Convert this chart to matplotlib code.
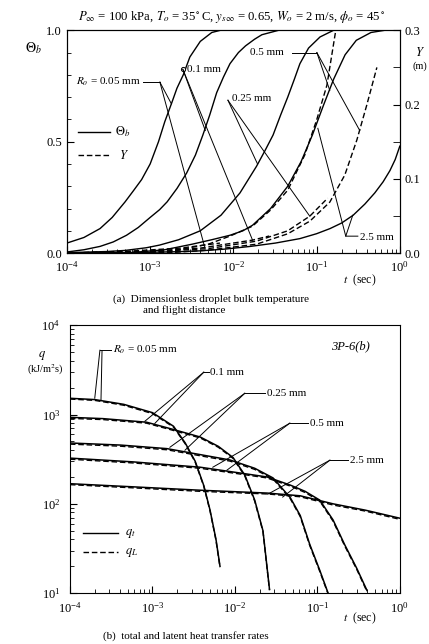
import matplotlib.pyplot as plt
from matplotlib.ticker import MultipleLocator, LogLocator, NullFormatter

plt.rcParams['font.family'] = ['Liberation Serif', 'DejaVu Serif']
plt.rcParams['mathtext.fontset'] = 'stix'
plt.rcParams['font.size'] = 9

# ---- (a) dimensionless bulk temperature theta_b and flight distance Y vs t (sec)
t_th005 = [1e-4, 1.6e-4, 2.5e-4, 3.5e-4, 5e-4, 6.3e-4, 7.9e-4, 1.0e-3, 1.26e-3, 1.5e-3,
           1.8e-3, 2.1e-3, 2.5e-3, 3.0e-3, 4.0e-3, 5.5e-3, 7.0e-3]
th005 = [0.045, 0.07, 0.11, 0.16, 0.23, 0.28, 0.33, 0.40, 0.50, 0.59,
         0.67, 0.74, 0.80, 0.88, 0.95, 0.99, 1.0]
t_th01 = [1e-4, 1.6e-4, 2.5e-4, 3.6e-4, 5.2e-4, 7.2e-4, 1e-3, 1.3e-3, 1.6e-3, 2.1e-3, 2.75e-3,
          3.5e-3, 4.3e-3, 5.2e-3, 6.3e-3, 7.6e-3, 9.1e-3, 1.15e-2, 1.4e-2, 1.8e-2, 2.2e-2, 3.5e-2]
th01 = [0.005, 0.015, 0.03, 0.05, 0.08, 0.115, 0.16, 0.195, 0.23, 0.29, 0.36,
        0.44, 0.53, 0.62, 0.72, 0.79, 0.85, 0.90, 0.93, 0.96, 0.98, 1.0]
t_th025 = [1e-4, 3e-4, 5e-4, 9e-4, 1.3e-3, 2.2e-3, 4.0e-3, 7.1e-3, 1.2e-2, 1.9e-2, 2.4e-2,
           3.0e-2, 3.7e-2, 4.5e-2, 5.4e-2, 6.3e-2, 8e-2, 0.11, 0.16]
th025 = [0.002, 0.007, 0.012, 0.024, 0.036, 0.06, 0.10, 0.17, 0.27, 0.39, 0.46,
         0.53, 0.62, 0.70, 0.78, 0.85, 0.92, 0.97, 1.0]
t_th05 = [1e-4, 6.2e-4, 1.5e-3, 3.2e-3, 5.5e-3, 9.1e-3, 1.3e-2, 1.7e-2, 2.8e-2, 4.5e-2,
          6.5e-2, 8.9e-2, 0.12, 0.16, 0.22, 0.30, 0.45, 0.66]
th05 = [0.0, 0.003, 0.015, 0.04, 0.06, 0.08, 0.10, 0.125, 0.20, 0.30,
        0.41, 0.53, 0.66, 0.78, 0.89, 0.955, 0.99, 1.0]
t_th25 = [1e-4, 6.2e-4, 2e-3, 4e-3, 8e-3, 1.6e-2, 3.2e-2, 6.3e-2, 0.1, 0.145,
          0.2, 0.275, 0.38, 0.5, 0.63, 0.76, 0.88, 1.0]
th25 = [0.0, 0.002, 0.006, 0.01, 0.018, 0.03, 0.045, 0.065, 0.087, 0.11,
        0.135, 0.17, 0.22, 0.27, 0.32, 0.37, 0.42, 0.48]

# flight distance Y (m)
t_Y005 = [1e-4, 5.7e-4, 2.3e-3, 4.5e-3, 6.9e-3]
Y005 = [0.0, 0.0027, 0.0067, 0.0108, 0.0135]
t_Y01 = [1e-4, 1e-3, 4e-3, 1.7e-2, 2.7e-2]
Y01 = [0.0, 0.0027, 0.0067, 0.0175, 0.023]
t_Y025 = [1e-4, 6.2e-4, 5e-3, 1.9e-2, 4.5e-2, 8.3e-2, 0.136]
Y025 = [0.0, 0.0005, 0.006, 0.0161, 0.030, 0.0498, 0.074]
t_Y05 = [1e-4, 1.7e-3, 5e-3, 1.9e-2, 4.5e-2, 8.3e-2, 0.144, 0.218, 0.304, 0.40, 0.53]
Y05 = [0.0, 0.0005, 0.004, 0.012, 0.026, 0.043, 0.0686, 0.105, 0.152, 0.199, 0.25]
t_Y25 = [1e-4, 1.7e-3, 5e-3, 9.1e-3, 1.7e-2, 2.8e-2, 4.5e-2, 7.2e-2, 0.10, 0.133, 0.17]
Y25 = [0.0, 0.002, 0.012, 0.0229, 0.0363, 0.058, 0.0847, 0.132, 0.179, 0.226, 0.30]

# ---- (b) total (q_t) and latent (q_L) heat transfer rates, kJ/m2s
t_q005 = [1e-4, 2.0e-4, 4.5e-4, 1.0e-3, 1.8e-3, 2.5e-3, 3.3e-3, 4.2e-3, 5.0e-3, 5.9e-3, 6.6e-3]
qt005 = [1520, 1470, 1300, 1050, 740, 480, 300, 160, 85, 40, 20]
qL005 = [1490, 1440, 1270, 1025, 725, 470, 294, 157, 83, 39, 19.5]
t_q01 = [1e-4, 2.5e-4, 8.5e-4, 1.6e-3, 3.8e-3, 6.3e-3, 9.5e-3, 1.32e-2, 1.74e-2, 2.19e-2, 2.63e-2]
qt01 = [930, 900, 820, 700, 560, 440, 330, 210, 110, 50, 11]
qL01 = [905, 878, 800, 683, 547, 430, 323, 205, 107, 49, 10.8]
t_q025 = [1e-4, 4.1e-4, 1.5e-3, 8.7e-3, 1.74e-2, 2.9e-2, 4.7e-2, 6.2e-2, 8.1e-2, 0.107, 0.135]
qt025 = [480, 455, 415, 310, 250, 195, 117, 74, 35, 18, 10]
qL025 = [466, 442, 403, 301, 243, 190, 114, 72, 34, 17.5, 9.8]
t_q05 = [1e-4, 5.8e-4, 3.8e-3, 2.45e-2, 4.7e-2, 7.1e-2, 0.107, 0.155, 0.214, 0.30, 0.40]
qt05 = [325, 295, 257, 200, 162, 138, 110, 66, 35, 19, 10.7]
qL05 = [316, 287, 250, 195, 158, 134, 107, 64, 34, 18.5, 10.4]
t_q25 = [1e-4, 5.8e-4, 3.8e-3, 2.45e-2, 6.2e-2, 0.155, 0.38, 1.0]
qt25 = [168, 155, 142, 132, 123, 100, 85, 69]
qL25 = [164, 151, 138, 129, 120, 97, 83, 67]

fig = plt.figure(figsize=(4.29, 6.44), dpi=100)

# ================= panel (a)
ax1 = fig.add_axes([0.156, 0.607, 0.776, 0.346])
ax1.set_xscale('log')
ax1.set_xlim(1e-4, 1)
ax1.set_ylim(0, 1)
for t, th in [(t_th005, th005), (t_th01, th01), (t_th025, th025), (t_th05, th05), (t_th25, th25)]:
    ax1.plot(t, th, color='k', lw=1.0)

ax1r = ax1.twinx()
ax1r.set_ylim(0, 0.3)
for t, y in [(t_Y005, Y005), (t_Y01, Y01), (t_Y025, Y025), (t_Y05, Y05), (t_Y25, Y25)]:
    ax1r.plot(t, y, color='k', lw=1.0, ls=(0, (4, 2)))

ax1.set_yticks([0, 0.5, 1.0])
ax1.set_yticklabels(['0.0', '0.5', '1.0'])
ax1.yaxis.set_minor_locator(MultipleLocator(0.1))
ax1r.set_yticks([0, 0.1, 0.2, 0.3])
ax1r.set_yticklabels(['0.0', '0.1', '0.2', '0.3'])
ax1r.yaxis.set_minor_locator(MultipleLocator(0.05))
ax1.xaxis.set_major_locator(LogLocator(base=10, numticks=10))
ax1.xaxis.set_minor_locator(LogLocator(base=10, subs=range(2, 10), numticks=10))
ax1.xaxis.set_minor_formatter(NullFormatter())
ax1.tick_params(axis='both', which='both', direction='in', top=False, right=False)
ax1.tick_params(which='major', length=5, labelsize=9)
ax1.tick_params(which='minor', length=3)
ax1.tick_params(axis='x', pad=5)
ax1r.tick_params(axis='y', which='both', direction='in', labelsize=9)
ax1r.tick_params(which='major', length=5)
ax1r.tick_params(which='minor', length=5)

# leaders (a), in theta units
lk = dict(color='k', lw=0.7)
ax1.plot([8.2e-4, 1.31e-3], [0.767, 0.767], **lk)
ax1.plot([1.31e-3, 1.8e-3], [0.767, 0.67], **lk)
ax1.plot([1.31e-3, 4.5e-3], [0.767, 0.03], **lk)
ax1.text(1.3e-4, 0.767, r'$R_o$ = 0.05 mm', fontsize=8, va='center')

ax1.plot([2.47e-3], [0.825], marker='o', ms=3, mfc='white', mec='k', mew=0.7)
ax1.plot([2.47e-3, 4.6e-3], [0.825, 0.55], **lk)
ax1.plot([2.47e-3, 1.7e-2], [0.825, 0.058], **lk)
ax1.text(2.75e-3, 0.825, '0.1 mm', fontsize=8, va='center')

ax1.plot([8.6e-3, 1.95e-2], [0.686, 0.40], **lk)
ax1.plot([8.6e-3, 8.3e-2], [0.686, 0.165], **lk)
ax1.text(9.6e-3, 0.695, '0.25 mm', fontsize=8, va='center')

ax1.plot([5.05e-2, 0.1007], [0.90, 0.90], **lk)
ax1.plot([0.1007, 0.144], [0.90, 0.73], **lk)
ax1.plot([0.1007, 0.33], [0.90, 0.55], **lk)
ax1.text(1.58e-2, 0.90, '0.5 mm', fontsize=8, va='center')

ax1.plot([0.313, 0.224, 0.272], [0.076, 0.076, 0.17], **lk)
ax1.plot([0.224, 0.1035], [0.076, 0.56], **lk)
ax1.text(0.331, 0.072, '2.5 mm', fontsize=8, va='center')

ax1.plot([0.033, 0.129], [0.543, 0.543], transform=ax1.transAxes, color='k', lw=1.0)
ax1.text(0.145, 0.543, r'$\Theta_b$', transform=ax1.transAxes, fontsize=9, va='center')
ax1.plot([0.033, 0.129], [0.44, 0.44], transform=ax1.transAxes, color='k', lw=1.0, ls=(0, (4, 2)))
ax1.text(0.155, 0.44, r'$Y$', transform=ax1.transAxes, fontsize=9, va='center')

fig.text(0.54, 1 - 17 / 644,
         r'$P_\infty$ = 100 kPa, $T_o$ = 35$^\circ$C, $y_{s\infty}$ = 0.65, $W_o$ = 2 m/s, $\phi_o$ = 45$^\circ$',
         ha='center', va='center', fontsize=9.2)
fig.text(33 / 429, 1 - 48 / 644, r'$\Theta_b$', ha='center', va='center', fontsize=10)
fig.text(420 / 429, 1 - 53 / 644, r'$Y$', ha='center', va='center', fontsize=9)
fig.text(420 / 429, 1 - 66 / 644, '(m)', ha='center', va='center', fontsize=7.5)
fig.text(360 / 429, 1 - 280 / 644, r'$t$  (sec)', ha='center', va='center', fontsize=8.5)
fig.text(113 / 429, 1 - 299 / 644, '(a)  Dimensionless droplet bulk temperature', va='center', fontsize=8)
fig.text(143 / 429, 1 - 310 / 644, 'and flight distance', va='center', fontsize=8)

# ================= panel (b)
ax2 = fig.add_axes([0.163, 0.079, 0.769, 0.416])
ax2.set_xscale('log')
ax2.set_yscale('log')
ax2.set_xlim(1e-4, 1)
ax2.set_ylim(10, 1e4)
for t, qt, ql in [(t_q005, qt005, qL005), (t_q01, qt01, qL01), (t_q025, qt025, qL025),
                  (t_q05, qt05, qL05), (t_q25, qt25, qL25)]:
    ax2.plot(t, qt, color='k', lw=1.1)
    ax2.plot(t, ql, color='k', lw=1.0, ls=(0, (4, 2)))

for a in (ax2.xaxis, ax2.yaxis):
    a.set_major_locator(LogLocator(base=10, numticks=10))
    a.set_minor_locator(LogLocator(base=10, subs=range(2, 10), numticks=10))
    a.set_minor_formatter(NullFormatter())
ax2.tick_params(axis='both', which='both', direction='in', top=False, right=False)
ax2.tick_params(which='major', length=5, labelsize=9)
ax2.tick_params(which='minor', length=3)
ax2.tick_params(axis='x', pad=6)
ax2.tick_params(axis='y', pad=7)

ax2.plot([2.31e-4, 3.14e-4], [5250, 5250], **lk)
ax2.plot([2.31e-4, 2.0e-4], [5250, 1524], **lk)
ax2.plot([2.45e-4, 2.38e-4], [5150, 1450], **lk)
ax2.text(3.3e-4, 5250, r'$R_o$ = 0.05 mm', fontsize=8, va='center')

ax2.plot([4.2e-3, 4.8e-3], [2980, 2980], **lk)
ax2.plot([4.2e-3, 8.1e-4], [2980, 841], **lk)
ax2.plot([4.2e-3, 1.07e-3], [2980, 795], **lk)
ax2.text(4.97e-3, 2980, '0.1 mm', fontsize=8, va='center')

ax2.plot([1.32e-2, 2.31e-2], [1730, 1730], **lk)
ax2.plot([1.32e-2, 1.63e-3], [1730, 430], **lk)
ax2.plot([1.32e-2, 2.48e-3], [1730, 398], **lk)
ax2.text(2.44e-2, 1730, '0.25 mm', fontsize=8, va='center')

ax2.plot([4.64e-2, 7.7e-2], [800, 800], **lk)
ax2.plot([4.64e-2, 5.4e-3], [800, 257], **lk)
ax2.plot([4.64e-2, 8.0e-3], [800, 238], **lk)
ax2.text(8.1e-2, 800, '0.5 mm', fontsize=8, va='center')

ax2.plot([0.142, 0.234], [308, 308], **lk)
ax2.plot([0.142, 2.5e-2], [308, 128], **lk)
ax2.plot([0.142, 3.8e-2], [308, 119], **lk)
ax2.text(0.248, 308, '2.5 mm', fontsize=8, va='center')

ax2.text(0.79, 0.92, '3P-6(b)', transform=ax2.transAxes, fontsize=9, style='italic', va='center')

ax2.plot([0.039, 0.145], [0.224, 0.224], transform=ax2.transAxes, color='k', lw=1.0)
ax2.text(0.167, 0.224, r'$q_t$', transform=ax2.transAxes, fontsize=9, va='center')
ax2.plot([0.039, 0.145], [0.153, 0.153], transform=ax2.transAxes, color='k', lw=1.0, ls=(0, (4, 2)))
ax2.text(0.167, 0.153, r'$q_L$', transform=ax2.transAxes, fontsize=9, va='center')

fig.text(42 / 429, 1 - 355 / 644, r'$q$', ha='center', va='center', fontsize=9)
fig.text(45 / 429, 1 - 370 / 644, r'(kJ/m$^2$s)', ha='center', va='center', fontsize=7.5)
fig.text(360 / 429, 1 - 618 / 644, r'$t$  (sec)', ha='center', va='center', fontsize=8.5)
fig.text(103 / 429, 1 - 636 / 644, '(b)  total and latent heat transfer rates', va='center', fontsize=8)

fig.savefig('out.png', dpi=100)
